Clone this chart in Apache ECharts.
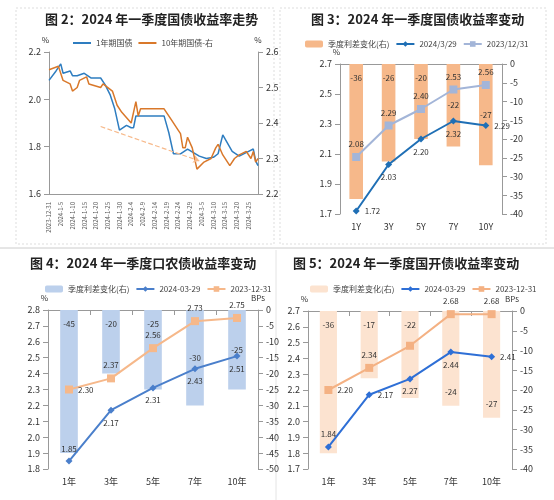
<!DOCTYPE html>
<html><head><meta charset="utf-8">
<script src="https://cdn.jsdelivr.net/npm/echarts@6/dist/echarts.min.js"></script>
<style>html,body{margin:0;background:#fff}#c{width:554px;height:500px}</style>
</head><body><div id="c"></div>
<script>
// 图2 日期（2023-12-31 至 2024-3-29）
const days = []
for (let i = 0; i < 90; i++) {
  const d = new Date(2023, 11, 31 + i)
  days.push(d.getFullYear() + '-' + (d.getMonth() + 1) + '-' + d.getDate())
}
// 读图点位 [天序号, 值]
const y1Points = [[0,2.08],[3,2.12],[5,2.15],[6,2.11],[9,2.12],[10,2.10],[12,2.10],[15,2.11],[18,2.09],[22,2.09],[24,2.06],[26,2.02],[28,1.96],[30,1.87],[33,1.89],[35,1.88],[36,1.88],[37,1.93],[49,1.93],[51,1.86],[53,1.77],[56,1.77],[59,1.79],[64,1.76],[67,1.75],[70,1.755],[72,1.77],[74,1.85],[78,1.78],[81,1.76],[85,1.78],[87,1.79],[88,1.74],[89,1.72]]
const y10Points = [[0,2.55],[4,2.56],[6,2.52],[9,2.51],[10,2.49],[12,2.50],[13,2.52],[16,2.53],[17,2.51],[22,2.50],[23,2.51],[27,2.49],[29,2.45],[31,2.43],[35,2.40],[37,2.46],[38,2.42],[39,2.44],[49,2.44],[52,2.41],[55,2.38],[56,2.37],[57,2.33],[58,2.33],[59,2.36],[61,2.33],[63,2.27],[66,2.29],[69,2.30],[71,2.33],[72,2.34],[74,2.31],[77,2.28],[79,2.30],[81,2.31],[84,2.32],[86,2.30],[87,2.32],[88,2.29],[89,2.30]]

const tenors3 = ['1Y', '3Y', '5Y', '7Y', '10Y']
const chg3 = [-36, -26, -20, -22, -27]
const gz0329 = [1.72, 2.03, 2.20, 2.32, 2.29]
const gz1231 = [2.08, 2.29, 2.40, 2.53, 2.56]

const tenors = ['1年', '3年', '5年', '7年', '10年']
const chg4 = [-45, -20, -25, -30, -25]
const nf0329 = [1.85, 2.17, 2.31, 2.43, 2.51]
const nf1231 = [2.30, 2.37, 2.56, 2.73, 2.75]

const chg5 = [-36, -17, -22, -24, -27]
const gk0329 = [1.84, 2.17, 2.27, 2.44, 2.41]
const gk1231 = [2.20, 2.34, 2.48, 2.68, 2.68]

const toSeries = pts => {
  const arr = new Array(90).fill(null)
  pts.forEach(p => { arr[p[0]] = p[1] })
  return arr
}

const font = 'Noto Sans CJK SC'
const axisTxt = { fontSize: 9, color: '#333', fontFamily: font }
const axisLn = { lineStyle: { color: '#999' } }

const grids = [
  { left: 49, width: 209, top: 52, height: 142 },
  { left: 340, width: 162, top: 64, height: 150 },
  { left: 48, width: 210, top: 310, height: 159 },
  { left: 308, width: 204, top: 311, height: 158 }
]

const xAxes = [
  { gridIndex: 0, type: 'category', data: days, boundaryGap: false, axisLine: axisLn, axisTick: { show: false },
    axisLabel: { ...axisTxt, fontSize: 6, rotate: 90, interval: 4, color: '#555' } },
  { gridIndex: 1, type: 'category', data: tenors3, axisLine: axisLn, axisTick: { show: false }, axisLabel: axisTxt },
  { gridIndex: 2, type: 'category', data: tenors, axisLine: axisLn, axisTick: { show: true }, axisLabel: axisTxt },
  { gridIndex: 3, type: 'category', data: tenors, axisLine: axisLn, axisTick: { show: true }, axisLabel: axisTxt }
]

const yL = (g, min, max, iv, dec) => ({ gridIndex: g, type: 'value', min, max, interval: iv, name: '%', nameGap: 8,
  nameTextStyle: { fontSize: 8, color: '#333', align: 'right' }, splitLine: { show: false },
  axisLine: { show: true, ...axisLn }, axisTick: { show: true }, axisLabel: { ...axisTxt, formatter: v => v.toFixed(dec) } })
const yR = (g, min, max, iv, name, dec) => ({ gridIndex: g, type: 'value', position: 'right', min, max, interval: iv, name, nameGap: 8,
  nameTextStyle: { fontSize: 8, color: '#333' }, splitLine: { show: false },
  axisLine: { show: true, ...axisLn }, axisTick: { show: true }, axisLabel: { ...axisTxt, formatter: v => v.toFixed(dec) } })

const yAxes = [
  yL(0, 1.6, 2.2, 0.2, 1), yR(0, 2.2, 2.6, 0.1, '%', 1),
  yL(1, 1.7, 2.7, 0.2, 1), yR(1, -40, 0, 5, '', 0),
  yL(2, 1.8, 2.8, 0.1, 1), yR(2, -50, 0, 5, 'BPs', 0),
  yL(3, 1.7, 2.7, 0.1, 1), yR(3, -40, 0, 5, 'BPs', 0)
]

const lblTxt = { fontSize: 8, color: '#333', fontFamily: font }
// pos: 每根柱标签位置 t=顶部 m=中部 b=底部
const barSeries = (xi, yi, data, color, name, pos) => ({
  name, type: 'bar', xAxisIndex: xi, yAxisIndex: yi, barWidth: '42%', itemStyle: { color },
  data: data.map((v, i) => ({ value: v, label: { position: { t: 'insideTop', m: 'inside', b: 'insideBottom' }[pos[i]], distance: 10 } })),
  label: { show: true, ...lblTxt }
})
const lineSeries = (xi, yi, data, color, name, sym, pos, hide) => ({
  name, type: 'line', xAxisIndex: xi, yAxisIndex: yi, symbol: sym, symbolSize: sym === 'diamond' ? 7 : 8,
  lineStyle: { color, width: 2 }, itemStyle: { color },
  data: data.map((v, i) => ({ value: v, label: { show: !(hide && hide.includes(i)), position: pos[i] } })),
  label: { show: true, ...lblTxt, formatter: p => p.value.toFixed(2) }, z: 5
})

const option = {
  animation: false,
  backgroundColor: '#fff',
  textStyle: { fontFamily: font },
  title: [
    { text: '图 2：2024 年一季度国债收益率走势', left: 40, top: 8 },
    { text: '图 3：2024 年一季度国债收益率变动', left: 306, top: 8 },
    { text: '图 4：2024 年一季度口农债收益率变动', left: 25, top: 252 },
    { text: '图 5：2024 年一季度国开债收益率变动', left: 288, top: 252 }
  ].map(t => ({ ...t, textStyle: { fontSize: 13, fontWeight: 'bold', color: '#222', fontFamily: font } })),
  legend: [
    { top: 34, left: 68, data: ['1年期国债', '10年期国债-右'], icon: 'rect', itemHeight: 2 },
    { top: 35, left: 300, data: ['季度利差变化(右)', '2024/3/29', '2023/12/31'] },
    { top: 280, left: 40, data: ['季度利差变化(右)_4', '2024-03-29_4', '2023-12-31_4'], formatter: n => n.split('_')[0] },
    { top: 280, left: 305, data: ['季度利差变化(右)_5', '2024-03-29_5', '2023-12-31_5'], formatter: n => n.split('_')[0] }
  ].map(l => ({ itemWidth: 18, itemHeight: 7, itemGap: 6, textStyle: { fontSize: 8, color: '#444' }, ...l })),
  grid: grids,
  xAxis: xAxes,
  yAxis: yAxes,
  series: [
    { name: '1年期国债', type: 'line', xAxisIndex: 0, yAxisIndex: 0, data: toSeries(y1Points), connectNulls: true,
      showSymbol: false, symbol: 'none', lineStyle: { color: '#2e7dc0', width: 1.5 }, itemStyle: { color: '#2e7dc0' },
      markLine: { symbol: ['none', 'arrow'], symbolSize: 6, silent: true, label: { show: false },
        lineStyle: { color: '#f7b98a', type: 'dashed', width: 1.2 },
        data: [[{ coord: ['2024-1-22', 1.885] }, { coord: ['2024-3-4', 1.74] }]] } },
    { name: '10年期国债-右', type: 'line', xAxisIndex: 0, yAxisIndex: 1, data: toSeries(y10Points), connectNulls: true,
      showSymbol: false, symbol: 'none', lineStyle: { color: '#d9782a', width: 1.5 }, itemStyle: { color: '#d9782a' } },

    barSeries(1, 3, chg3, '#f6b88a', '季度利差变化(右)', 'tttmm'),
    lineSeries(1, 2, gz0329, '#1f6fb5', '2024/3/29', 'diamond', ['right', 'bottom', 'bottom', 'bottom', 'right']),
    lineSeries(1, 2, gz1231, '#a3b5d8', '2023/12/31', 'rect', ['top', 'top', 'top', 'top', 'top']),

    barSeries(2, 5, chg4, '#bcd0ec', '季度利差变化(右)_4', 'tttmm'),
    lineSeries(2, 4, nf0329, '#4a7fcb', '2024-03-29_4', 'diamond', ['top', 'bottom', 'bottom', 'bottom', 'bottom']),
    lineSeries(2, 4, nf1231, '#f6b88a', '2023-12-31_4', 'rect', ['right', 'top', 'top', 'top', 'top']),

    barSeries(3, 7, chg5, '#fce3d0', '季度利差变化(右)_5', 'tttbb'),
    lineSeries(3, 6, gk0329, '#2e6fd6', '2024-03-29_5', 'diamond', ['top', 'right', 'bottom', 'bottom', 'right']),
    lineSeries(3, 6, gk1231, '#f4b183', '2023-12-31_5', 'rect', ['right', 'top', 'top', 'top', 'top'], [2])
  ],
  graphic: [
    { type: 'rect', shape: { x: 16, y: 8, width: 258, height: 236 }, style: { fill: 'none', stroke: '#ddd', lineDash: [2, 2] } },
    { type: 'rect', shape: { x: 280, y: 8, width: 266, height: 236 }, style: { fill: 'none', stroke: '#ddd', lineDash: [2, 2] } },
    { type: 'line', shape: { x1: 0, y1: 248, x2: 554, y2: 248 }, style: { stroke: '#ccc' } },
    { type: 'line', shape: { x1: 276, y1: 250, x2: 276, y2: 500 }, style: { stroke: '#e4e4e4' } }
  ]
}

const chart = echarts.init(document.getElementById('c'))
chart.setOption(option)
</script>
</body></html>
